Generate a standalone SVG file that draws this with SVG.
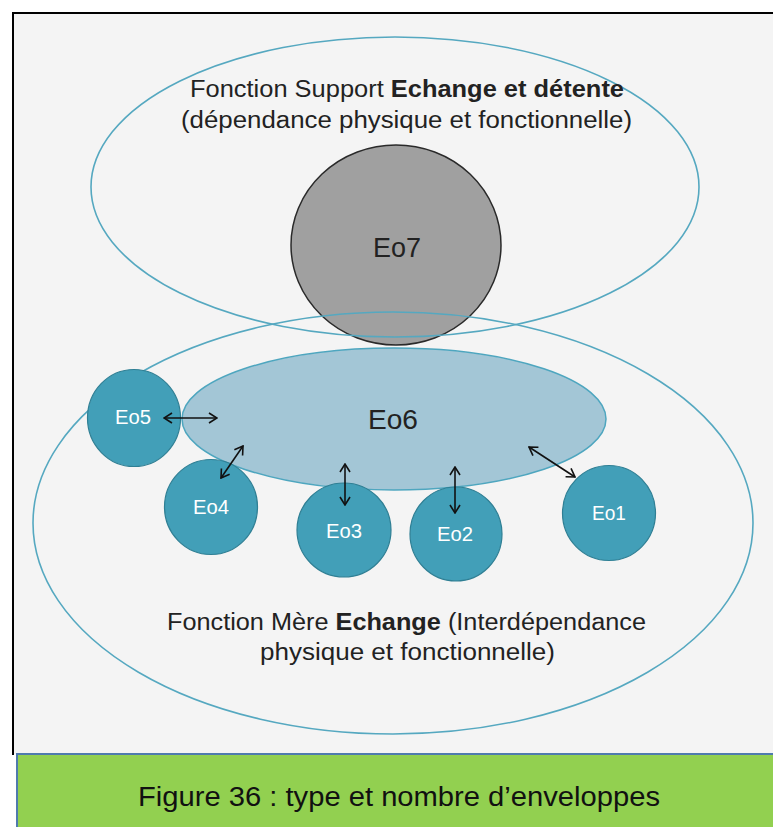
<svg xmlns="http://www.w3.org/2000/svg" width="773" height="827" viewBox="0 0 773 827">
<style>
.env{fill:none;stroke:#55a8c0;stroke-width:1.6}
.sat{fill:#429fb8;stroke:#2f7f94;stroke-width:1.2}
.lbl{font-family:"Liberation Sans",Arial,sans-serif;fill:#222}
.wl{font-family:"Liberation Sans",Arial,sans-serif;fill:#fff;font-size:20px;text-anchor:middle}
.arr{stroke:#111;stroke-width:1.6;fill:none;marker-start:url(#ah);marker-end:url(#ah)}
</style>
<defs>
<marker id="ah" viewBox="0 0 10 12" refX="9" refY="6" markerWidth="10" markerHeight="12" markerUnits="userSpaceOnUse" orient="auto-start-reverse">
<path d="M1,1 L9,6 L1,11" fill="none" stroke="#111" stroke-width="1.6"/>
</marker>
</defs>
<rect x="0" y="0" width="773" height="827" fill="#ffffff"/>
<rect x="13" y="13" width="760" height="741" fill="#f4f4f4"/>
<path d="M773,13 H13 V755" fill="none" stroke="#000" stroke-width="2"/>

<g id="E07">
<ellipse cx="396" cy="245" rx="105" ry="100" fill="#a0a0a0" stroke="#2a2a2a" stroke-width="1.5"/>
<text class="lbl" x="397" y="257" font-size="27" text-anchor="middle" textLength="48" lengthAdjust="spacingAndGlyphs">Eo7</text>
</g>

<g id="support">
<ellipse class="env" cx="395" cy="187" rx="304" ry="150"/>
<text class="lbl" x="190" y="97" font-size="23" textLength="434" lengthAdjust="spacingAndGlyphs">Fonction Support <tspan font-weight="bold">Echange et détente</tspan></text>
<text class="lbl" x="181" y="128" font-size="23" textLength="451" lengthAdjust="spacingAndGlyphs">(dépendance physique et fonctionnelle)</text>
</g>

<g id="mere">
<ellipse class="env" cx="393" cy="523" rx="360" ry="211"/>
<text class="lbl" x="167" y="630" font-size="23" textLength="479" lengthAdjust="spacingAndGlyphs">Fonction Mère <tspan font-weight="bold">Echange</tspan> (Interdépendance</text>
<text class="lbl" x="260" y="660" font-size="23" textLength="295" lengthAdjust="spacingAndGlyphs">physique et fonctionnelle)</text>
</g>

<g id="E06">
<ellipse cx="394" cy="419" rx="212" ry="71" fill="#a3c6d6" stroke="#4ea6bf" stroke-width="1.5"/>
<text class="lbl" x="393" y="429" font-size="28" text-anchor="middle" fill="#111" textLength="50" lengthAdjust="spacingAndGlyphs">Eo6</text>
</g>

<g id="E05"><ellipse class="sat" cx="134" cy="418" rx="46.5" ry="48.5"/><text class="wl" x="133" y="424" textLength="36" lengthAdjust="spacingAndGlyphs">Eo5</text></g>
<g id="E04"><ellipse class="sat" cx="211" cy="507" rx="46.5" ry="47.5"/><text class="wl" x="211" y="514" textLength="36" lengthAdjust="spacingAndGlyphs">Eo4</text></g>
<g id="E03"><ellipse class="sat" cx="344" cy="530" rx="47" ry="47"/><text class="wl" x="344" y="538" textLength="36" lengthAdjust="spacingAndGlyphs">Eo3</text></g>
<g id="E02"><ellipse class="sat" cx="456" cy="534" rx="46" ry="47"/><text class="wl" x="455" y="541" textLength="36" lengthAdjust="spacingAndGlyphs">Eo2</text></g>
<g id="E01"><ellipse class="sat" cx="609" cy="513" rx="46.5" ry="47.5"/><text class="wl" x="609" y="520" textLength="34" lengthAdjust="spacingAndGlyphs">Eo1</text></g>

<g id="connectors">
<line class="arr" x1="164" y1="418" x2="217" y2="418"/>
<line class="arr" x1="221" y1="478" x2="243" y2="446"/>
<line class="arr" x1="345" y1="464" x2="345" y2="505"/>
<line class="arr" x1="455" y1="467" x2="455" y2="513"/>
<line class="arr" x1="529" y1="447" x2="575" y2="477"/>
</g>

<g id="caption">
<rect x="17" y="754" width="760" height="80" fill="#92d050" stroke="#4f7bae" stroke-width="2"/>
<text x="138" y="806" font-family="Liberation Sans, Arial, sans-serif" font-size="27" fill="#111" textLength="522" lengthAdjust="spacingAndGlyphs">Figure 36 : type et nombre d’enveloppes</text>
</g>
</svg>
